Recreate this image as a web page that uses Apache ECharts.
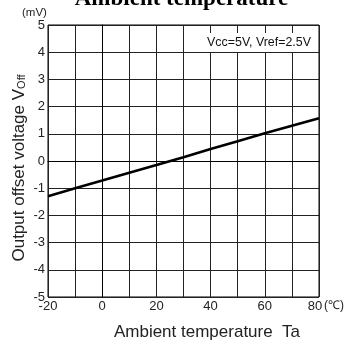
<!DOCTYPE html>
<html>
<head>
<meta charset="utf-8">
<script src="https://cdn.jsdelivr.net/npm/echarts@6/dist/echarts.min.js"></script>
<style>html,body{margin:0;padding:0;background:#fff;}#c{width:363px;height:348px;}</style>
</head>
<body>
<div id="c"></div>
<script>
const temps = [-20, -10, 0, 10, 20, 30, 40, 50, 60, 70, 80];
const offsetVoltage = [-1.3, -1.0, -0.72, -0.43, -0.15, 0.14, 0.44, 0.73, 1.02, 1.3, 1.57];
const xTickLabels = ['-20', '0', '20', '40', '60', '80'];
const yTickLabels = ['-5', '-4', '-3', '-2', '-1', '0', '1', '2', '3', '4', '5'];
const titleText = 'Ambient temperature';
const condText = 'Vcc=5V, Vref=2.5V';

const chart = echarts.init(document.getElementById('c'), null, {renderer: 'canvas'});
const font = 'Liberation Sans, Arial, sans-serif';
chart.setOption({
  animation: false,
  backgroundColor: '#fff',
  grid: {left: 48, right: 44, top: 25, bottom: 51, show: true, borderColor: '#000', borderWidth: 1, backgroundColor: 'transparent'},
  xAxis: {
    type: 'value', min: -20, max: 80, interval: 10,
    axisLine: {show: true, lineStyle: {color: '#000', width: 1}},
    axisTick: {show: false},
    splitLine: {show: true, lineStyle: {color: '#222', width: 1}},
    axisLabel: {
      color: '#222', fontSize: 13, fontFamily: font, margin: 3,
      formatter: v => {
        const s = String(v);
        if (!xTickLabels.includes(s)) return '';
        return v === 80 ? '{r|' + s + '}' : s;
      },
      rich: {r: {fontSize: 13, fontFamily: font, color: '#222', padding: [0, 8, 0, 0]}}
    }
  },
  yAxis: {
    type: 'value', min: -5, max: 5, interval: 1,
    axisLine: {show: true, lineStyle: {color: '#000', width: 1}},
    axisTick: {show: false},
    splitLine: {show: true, lineStyle: {color: '#222', width: 1}},
    axisLabel: {
      color: '#222', fontSize: 13, fontFamily: font, margin: 3,
      formatter: v => yTickLabels.includes(String(v)) ? String(v) : ''
    }
  },
  series: [{
    type: 'line',
    data: temps.map((t, i) => [t, offsetVoltage[i]]),
    showSymbol: false,
    lineStyle: {color: '#000', width: 2.6},
    z: 5
  }],
  graphic: [
    {type: 'text', left: 'center', top: -12, style: {text: titleText, font: 'bold 23px "Liberation Serif", "Times New Roman", serif', fill: '#000'}},
    {type: 'text', x: 22, y: 13, style: {text: '(mV)', font: '11.5px ' + font, fill: '#222', textVerticalAlign: 'middle'}},
    {type: 'text', x: 324, y: 306, style: {text: '(\u2103)', font: '12px ' + font, fill: '#222', textVerticalAlign: 'middle'}},
    {type: 'rect', shape: {x: 203, y: 33, width: 113, height: 19}, style: {fill: '#fff'}, z: 10},
    {type: 'text', x: 259, y: 43, z: 11, style: {text: condText, font: '12.4px ' + font, fill: '#111', textAlign: 'center', textVerticalAlign: 'middle'}},
    {type: 'text', x: 207, y: 332, style: {text: 'Ambient temperature  Ta', font: '17px ' + font, fill: '#222', textAlign: 'center', textVerticalAlign: 'middle'}},
    {type: 'text', x: 19, y: 168, rotation: Math.PI / 2, style: {
      rich: {
        m: {fontSize: 17, fontFamily: font, fill: '#222'},
        s: {fontSize: 11, fontFamily: font, fill: '#222', padding: [6, 0, 0, 0]}
      },
      text: '{m|Output offset voltage V}{s|Off}',
      textAlign: 'center', textVerticalAlign: 'middle'
    }}
  ]
});
</script>
</body>
</html>
